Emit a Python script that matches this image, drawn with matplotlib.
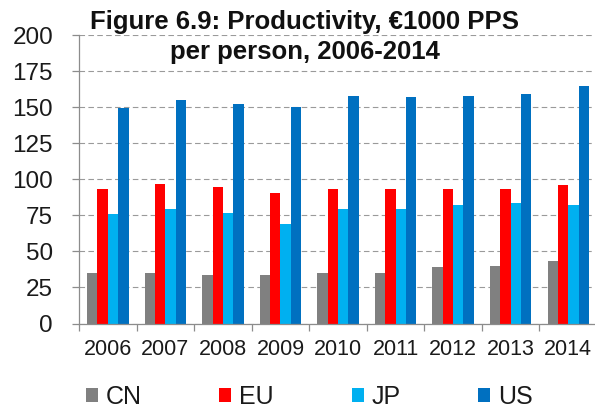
import numpy as np
import matplotlib
matplotlib.use("Agg")
from matplotlib import pyplot as plt
from matplotlib.patches import Patch

plt.rcParams['font.family'] = ['Liberation Sans', 'DejaVu Sans']

# values (1000 PPS per person)
years = ["2006", "2007", "2008", "2009", "2010", "2011", "2012", "2013", "2014"]
cn = [35.0, 35.0, 33.6, 33.6, 35.0, 35.0, 39.0, 40.2, 43.6]
eu = [93.4, 97.0, 94.7, 90.3, 93.4, 93.4, 93.3, 93.3, 95.8]
jp = [75.8, 79.3, 77.0, 69.1, 79.3, 79.3, 82.3, 83.4, 82.3]
us = [149.5, 155.0, 152.6, 150.2, 158.2, 157.1, 158.0, 159.2, 164.8]

series = ["CN", "EU", "JP", "US"]
colors = ["#808080", "#FF0000", "#00B0F0", "#0070C0"]

fig = plt.figure(figsize=(5.95, 4.12), dpi=100)
ax = fig.add_axes([0.1328, 0.2148, 0.8706, 0.6995])

x = np.arange(len(years))
w = 0.18
for k, vals in enumerate([cn, eu, jp, us]):
    ax.bar(x + (k - 1.5) * w, vals, width=w, color=colors[k], label=series[k], zorder=2)

ax.set_xlim(-0.5, len(years) - 0.5)
ax.set_ylim(0, 200)
ax.set_yticks(np.arange(0, 201, 25))

# tick marks between groups, labels at group centres
ax.set_xticks(np.arange(-0.5, len(years), 1.0))
ax.set_xticklabels([])
ax.set_xticks(x, minor=True)
ax.set_xticklabels(years, minor=True)

grey = "#8c8c8c"
ax.tick_params(axis='x', which='major', length=5, width=0.9, color=grey, direction='out')
ax.tick_params(axis='x', which='minor', length=0, pad=11.5, labelsize=15.5, labelcolor='#1a1a1a')
ax.tick_params(axis='y', length=5, width=0.9, color=grey, pad=13.7, labelsize=17.5, labelcolor='#1a1a1a')

for s in ['top', 'right']:
    ax.spines[s].set_visible(False)
for s in ['left', 'bottom']:
    ax.spines[s].set_color(grey)
    ax.spines[s].set_linewidth(0.9)

ax.yaxis.grid(True, color="#9a9a9a", linestyle=(0, (5, 3)), linewidth=0.8, zorder=0)
ax.set_axisbelow(True)

fig.text(0.5126, 0.9296, "Figure 6.9: Productivity, \u20ac1000 PPS", ha='center', va='baseline',
         fontsize=18.5, fontweight='bold', color='#111111')
fig.text(0.5126, 0.8568, "per person, 2006-2014", ha='center', va='baseline',
         fontsize=18.5, fontweight='bold', color='#111111')

handles = [Patch(facecolor=c, edgecolor='none') for c in colors]
fig.legend(handles, series, loc='center left', bbox_to_anchor=(0.1445, 0.0364), ncol=4,
           frameon=False, fontsize=18, handlelength=0.48, handleheight=0.48,
           handletextpad=0.32, columnspacing=3.1, borderpad=0, borderaxespad=0,
           labelcolor='#1a1a1a')

fig.savefig("out.png", dpi=100)
